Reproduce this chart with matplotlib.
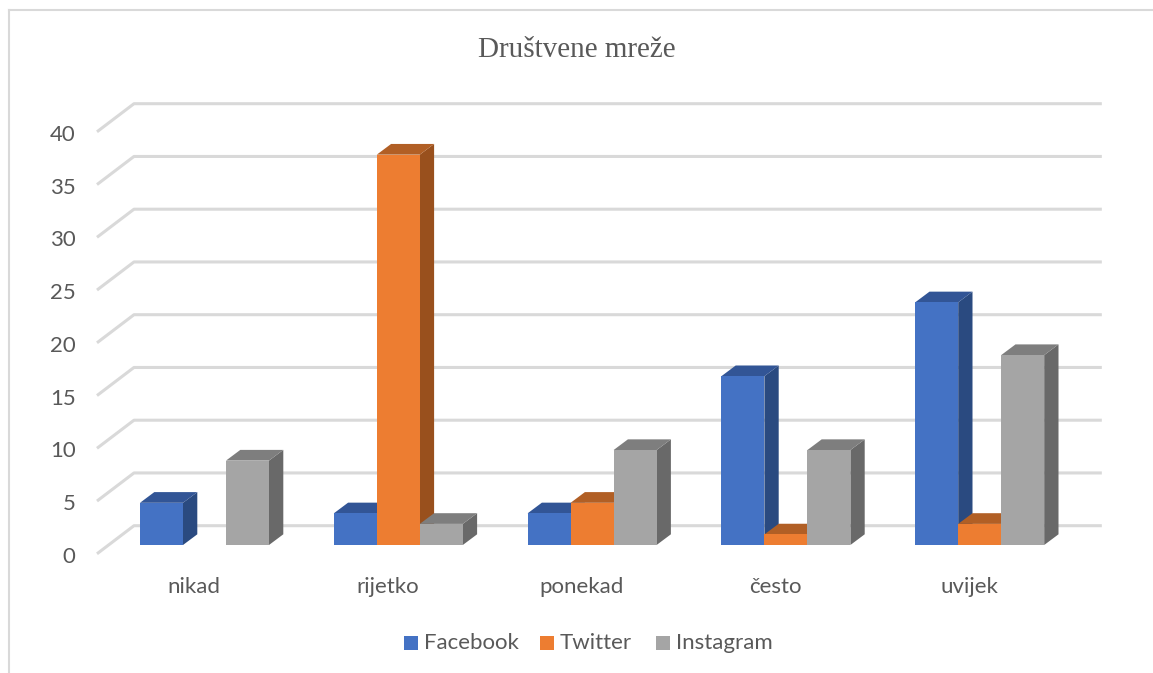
import matplotlib
matplotlib.use("Agg")
import matplotlib.pyplot as plt
from matplotlib.patches import Polygon, Rectangle

categories = ["nikad", "rijetko", "ponekad", "često", "uvijek"]
series = ["Facebook", "Twitter", "Instagram"]
facebook = [4, 3, 3, 16, 23]
twitter = [0, 37, 4, 1, 2]
instagram = [8, 2, 9, 9, 18]
yticks = [0, 5, 10, 15, 20, 25, 30, 35, 40]

front_cols = ["#4472C4", "#ED7D31", "#A5A5A5"]
top_cols = ["#325596", "#B15F25", "#7E7E7E"]
side_cols = ["#2A4A80", "#99501D", "#696969"]

W, H = 1153, 673
plt.rcParams["font.family"] = ["Lato", "DejaVu Sans"]
fig = plt.figure(figsize=(W / 100, H / 100), dpi=100)
ax = fig.add_axes([0, 0, 1, 1])

# one category = 193.8 px, one unit = 10.55 px, zero of the bars at y=545
px_x = 193.8
px_y = 10.55
ax.set_xlim((0 - 204.5) / px_x, (W - 204.5) / px_x)
ax.set_ylim((545 - H) / px_y, 545 / px_y)
ax.axis("off")

bar_w = 43 / px_x
# depth of a bar and of the floor, in data units
bar_dx, bar_dy = 14.3 / px_x, 10.7 / px_y
back_dx, back_dy = 25.8 / px_x, 19.3 / px_y
front_dx, front_dy = 11.2 / px_x, 8.8 / px_y

for v in yticks:
    xs = [-0.497 - front_dx, -0.497 + back_dx, 4.497 + back_dx]
    ys = [v - front_dy, v + back_dy, v + back_dy]
    ax.plot(xs, ys, color="#D9D9D9", lw=2.2, solid_capstyle="butt", zorder=1)
    ax.text(-0.665, v - 1.13, str(v), ha="right", va="center", fontsize=16, color="#595959")

# left to right so that neighbours overlap properly
for i, cat in enumerate(categories):
    for j, vals in enumerate([facebook, twitter, instagram]):
        v = vals[i]
        if v == 0:
            continue
        x0 = i + (j - 1.5) * bar_w
        x1 = x0 + bar_w
        z = 3 + i * 3 + j
        ax.add_patch(Polygon([(x1, 0), (x1 + bar_dx, bar_dy), (x1 + bar_dx, v + bar_dy), (x1, v)],
                             closed=True, fc=side_cols[j], ec="none", zorder=z))
        ax.add_patch(Polygon([(x0, v), (x0 + bar_dx, v + bar_dy), (x1 + bar_dx, v + bar_dy), (x1, v)],
                             closed=True, fc=top_cols[j], ec="none", zorder=z))
        ax.add_patch(Rectangle((x0, 0), bar_w, v, fc=front_cols[j], ec="none", zorder=z + 0.5))
    ax.text(i - 0.054, -3.95, cat, ha="center", va="center", fontsize=16, color="#595959")

# chart frame
fig.add_artist(plt.Line2D([8.5 / W, 8.5 / W], [0, 1 - 10 / H], color="#D9D9D9", lw=1.5))
fig.add_artist(plt.Line2D([8.5 / W, 1], [1 - 10 / H, 1 - 10 / H], color="#D9D9D9", lw=1.5))

fig.text(576.5 / W, 1 - 50 / H, "Društvene mreže", ha="center", va="center",
         fontsize=21, color="#595959", family="Liberation Serif")

# legend
leg_x = [404, 540, 656]
for k, name in enumerate(series):
    fig.add_artist(Rectangle((leg_x[k] / W, 1 - 650 / H), 14 / W, 14 / H, fc=front_cols[k], ec="none",
                             transform=fig.transFigure))
    fig.text((leg_x[k] + 20) / W, 1 - 643 / H, name, ha="left", va="center", fontsize=16, color="#595959")

fig.savefig("out.png", dpi=100)
